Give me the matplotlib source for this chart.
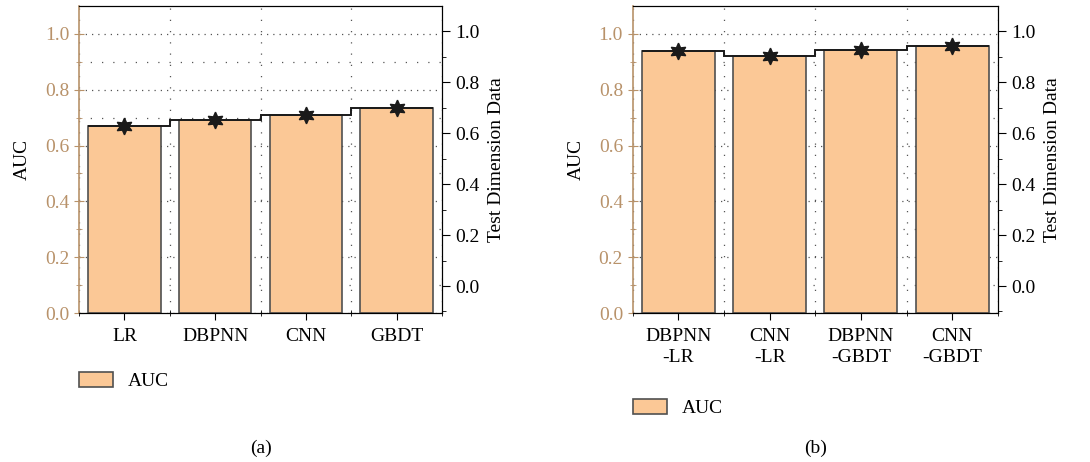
import matplotlib
matplotlib.use("Agg")
import matplotlib.pyplot as plt
from matplotlib.ticker import MultipleLocator, FixedLocator

# panel (a)
models_a = ["LR", "DBPNN", "CNN", "GBDT"]
auc_a = [0.670, 0.692, 0.711, 0.735]

# panel (b)
models_b = ["DBPNN\n-LR", "CNN\n-LR", "DBPNN\n-GBDT", "CNN\n-GBDT"]
auc_b = [0.937, 0.921, 0.944, 0.957]

BAR = "#fbc896"
TAN = "#b8926a"
GRID = "#555555"

plt.rcParams["font.family"] = ["Liberation Serif", "DejaVu Serif"]
plt.rcParams["font.size"] = 14


def draw_panel(fig, rect, labels, values, caption, cap_x, leg_xy):
    ax = fig.add_axes(rect)
    x = list(range(len(labels)))

    bars = ax.bar(x, values, width=0.8, color=BAR, edgecolor="#505050",
                  linewidth=1.2, zorder=2, label="AUC")
    edges = [-0.4] + [i + 0.5 for i in x[:-1]] + [x[-1] + 0.4]
    ax.stairs(values, edges, baseline=None, color="#1a1a1a", linewidth=1.4, zorder=3)
    ax.plot(x, values, linestyle="none", marker=(6, 1, 0), markersize=12,
            color="#1a1a1a", zorder=4)

    ax.set_xlim(-0.5, len(labels) - 0.5)
    ax.set_ylim(0, 1.1)
    ax.set_xticks(x)
    ax.set_xticklabels(labels, linespacing=1.3)
    ax.xaxis.set_minor_locator(FixedLocator([i + 0.5 for i in range(-1, len(labels))]))
    ax.yaxis.set_major_locator(FixedLocator([0, 0.2, 0.4, 0.6, 0.8, 1.0]))
    ax.yaxis.set_minor_locator(FixedLocator([0.1, 0.3, 0.5, 0.7, 0.9]))
    ax.yaxis.set_major_formatter(matplotlib.ticker.FormatStrFormatter("%.1f"))

    ax.grid(True, which="major", axis="y", color=GRID, linestyle=(0, (1, 4)), linewidth=0.9, zorder=0)
    ax.grid(True, which="minor", axis="y", color=GRID, linestyle=(0, (1, 8)), linewidth=0.9, zorder=0)
    ax.grid(True, which="minor", axis="x", color=GRID, linestyle=(0, (1, 8)), linewidth=0.9, zorder=0)
    ax.set_axisbelow(True)

    ax.spines["left"].set_color(TAN)
    ax.spines["left"].set_linewidth(1.2)
    ax.tick_params(axis="y", which="both", direction="inout", colors=TAN, labelcolor=TAN)
    ax.tick_params(axis="y", which="major", length=7)
    ax.tick_params(axis="y", which="minor", length=5)
    ax.tick_params(axis="x", which="major", direction="out", length=5, pad=6)
    ax.tick_params(axis="x", which="minor", direction="inout", length=5)
    ax.set_ylabel("AUC", labelpad=10)

    ax2 = ax.twinx()
    ax2.set_ylim(-0.106, 1.1)
    ax2.yaxis.set_major_locator(MultipleLocator(0.2))
    ax2.yaxis.set_minor_locator(FixedLocator([-0.1, 0.1, 0.3, 0.5, 0.7, 0.9]))
    ax2.yaxis.set_major_formatter(matplotlib.ticker.FormatStrFormatter("%.1f"))
    ax2.tick_params(axis="y", which="major", direction="out", length=6)
    ax2.tick_params(axis="y", which="minor", direction="out", length=3)
    ax2.spines["left"].set_visible(False)
    ax2.set_ylabel("Test Dimension Data", labelpad=6)

    ax.legend([bars], ["AUC"], loc="center left", bbox_to_anchor=leg_xy,
              bbox_transform=fig.transFigure, frameon=False, borderpad=0,
              borderaxespad=0, handlelength=1.75, handleheight=0.8,
              handletextpad=0.75)
    fig.text(cap_x, 0.030, caption, ha="center", va="center")
    return ax


fig = plt.figure(figsize=(10.9, 4.62), dpi=100)
draw_panel(fig, [0.0725, 0.3225, 0.333, 0.6645], models_a, auc_a, "(a)", 0.239, (0.0725, 0.175))
draw_panel(fig, [0.5805, 0.3225, 0.335, 0.6645], models_b, auc_b, "(b)", 0.748, (0.5807, 0.117))
fig.savefig("out.png", dpi=100)
